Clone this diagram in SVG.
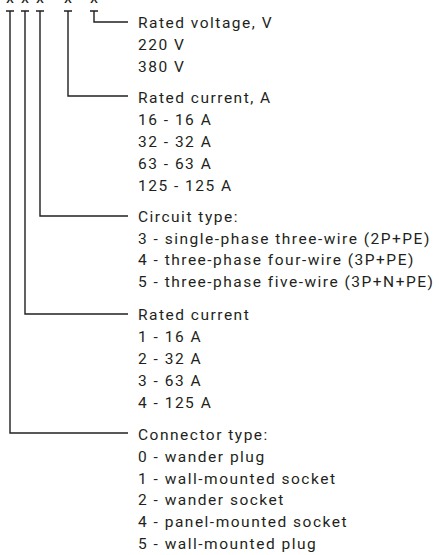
<svg xmlns="http://www.w3.org/2000/svg" width="439" height="555" viewBox="0 0 439 555">
<style>
text{font-family:Roboto,"Liberation Sans",sans-serif;font-size:15.5px;letter-spacing:1.5px;fill:#231f20}
.x{font-size:16px;letter-spacing:0;text-anchor:middle}
.ln{stroke:#231f20;stroke-width:1.4;fill:none}
</style>
<rect width="439" height="555" fill="#fff"/>
<g id="code">
<text class="x" x="10" y="3">x</text>
<text class="x" x="25" y="3">x</text>
<text class="x" x="40" y="3">x</text>
<text class="x" x="68" y="3">x</text>
<text class="x" x="94" y="3">x</text>
</g>
<g id="connectors" class="ln">
<path d="M6 11H14M10 11V433H128"/>
<path d="M21 11H29M25 11V314H128"/>
<path d="M36 11H44M40 11V216H128"/>
<path d="M64 11H72M68 11V96H128"/>
<path d="M90 11H98M94 11V22H128"/>
</g>
<g id="voltage">
<text x="138" y="28">Rated voltage, V</text>
<text x="138" y="50">220 V</text>
<text x="138" y="72">380 V</text>
</g>
<g id="current">
<text x="138" y="103">Rated current, A</text>
<text x="138" y="125">16 - 16 A</text>
<text x="138" y="147">32 - 32 A</text>
<text x="138" y="169">63 - 63 A</text>
<text x="138" y="191">125 - 125 A</text>
</g>
<g id="circuit">
<text x="138" y="222">Circuit type:</text>
<text x="138" y="244">3 - single-phase three-wire (2P+PE)</text>
<text x="138" y="265">4 - three-phase four-wire (3P+PE)</text>
<text x="138" y="287">5 - three-phase five-wire (3P+N+PE)</text>
</g>
<g id="ratedcurrent">
<text x="138" y="320">Rated current</text>
<text x="138" y="342">1 - 16 A</text>
<text x="138" y="364">2 - 32 A</text>
<text x="138" y="386">3 - 63 A</text>
<text x="138" y="408">4 - 125 A</text>
</g>
<g id="connector">
<text x="138" y="440">Connector type:</text>
<text x="138" y="462">0 - wander plug</text>
<text x="138" y="484">1 - wall-mounted socket</text>
<text x="138" y="505">2 - wander socket</text>
<text x="138" y="527">4 - panel-mounted socket</text>
<text x="138" y="549">5 - wall-mounted plug</text>
</g>
</svg>
